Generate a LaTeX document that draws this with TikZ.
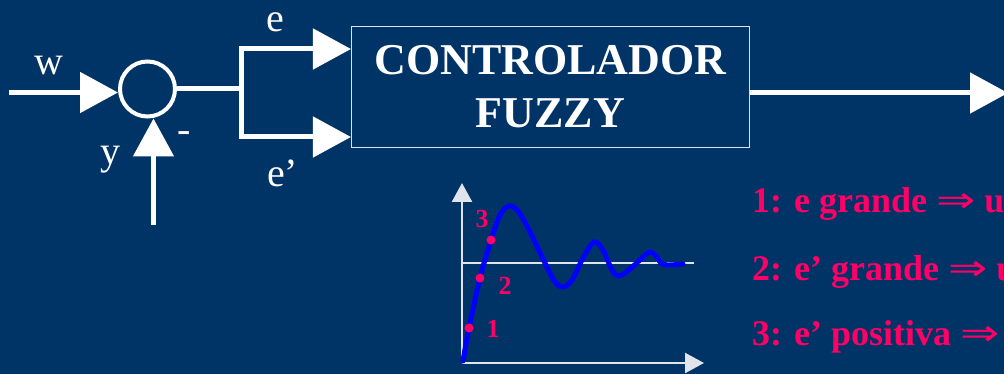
\documentclass[tikz,border=0pt]{standalone}
\usepackage{fontspec}
\setmainfont{Liberation Serif}
\newfontfamily\symfont{DejaVu Sans}
\usetikzlibrary{arrows.meta}
\definecolor{bg}{RGB}{0,51,102}
\definecolor{hot}{RGB}{255,0,102}
\definecolor{curveblue}{RGB}{0,0,255}
\definecolor{boxline}{RGB}{220,225,235}
\definecolor{axisgray}{RGB}{225,228,235}
\newcommand{\impl}{\scalebox{1.3}[1.0]{\symfont\mdseries ⇒}}
\begin{document}
\begin{tikzpicture}[x=1pt,y=-1pt,
  sig/.style={draw=white, line width=5pt, -{Triangle[length=38pt,width=40pt]}},
  plain/.style={draw=white, line width=5pt},
  axisline/.style={draw=axisgray, line width=2.5pt, -{Triangle[length=19pt,width=20pt]}},
  lbl/.style={text=white, font=\fontsize{40}{48}\selectfont, inner sep=0pt},
  numlbl/.style={text=hot, font=\fontsize{26}{30}\selectfont\bfseries, inner sep=0pt},
  rule/.style={text=hot, font=\fontsize{36}{40}\selectfont\bfseries, inner sep=0pt, anchor=base west},
  dot/.style={fill=hot}]
\clip (0,0) rectangle (1004,374);
\fill[bg] (0,0) rectangle (1004,374);
\useasboundingbox (0,0) rectangle (1004,374);

% summing junction
\node[draw=white, line width=4pt, circle, minimum size=55pt, inner sep=0pt] (sum) at (147.5,89) {};
\coordinate (win) at (9,92.5);
\coordinate (yin) at (153.5,225);
\coordinate (branch) at (241.5,89);
\draw[sig] (win) -- (win -| sum.west);
\draw[sig] (yin) -- (yin |- sum.south);
\draw[plain] (sum.east) -- (branch);

% controller
\node[draw=boxline, line width=1.5pt, minimum width=397.6pt, minimum height=120.6pt,
      inner sep=0pt, align=center, text=white,
      font=\fontsize{44}{53}\selectfont\bfseries] (ctrl) at (550.5,87) {CONTROLADOR\\FUZZY};
\path (ctrl.west) ++(0,-38) coordinate (inE);
\path (ctrl.west) ++(0,50) coordinate (inEd);
\draw[sig] (branch) |- (inE);
\draw[sig] (branch) |- (inEd);
\coordinate (yout) at (1008,93);
\draw[sig] (ctrl.east |- yout) -- (yout);

% labels
\node[lbl, anchor=base] (wl) at (49,75) {w};
\node[lbl, anchor=base] (yl) at (110,165) {y};
\node[lbl, anchor=base] (minus) at (184,143) {-};
\node[lbl, anchor=base] (el) at (275,32) {e};
\node[lbl, anchor=base west] (epl) at (267,187) {e’};

% response graph
\coordinate (O) at (462,363);
\coordinate (ytop) at (462,183);
\coordinate (xend) at (704,363);
\coordinate (r0) at (462,263);
\coordinate (r1) at (694,263);
\draw[axisline] (O) -- (ytop);
\draw[axisline] (O) -- (xend);
\draw[draw=axisgray, line width=1.5pt] (r0) -- (r1);
\draw[curveblue, line width=5pt, line cap=round] plot[smooth, tension=0.55] coordinates {
 (463,361) (469,328) (480,278) (491,240) (500,215) (509,206) (518,211) (530,232)
 (545,263) (555,282) (563,287) (572,280) (583,258) (594,242) (603,250) (612,270)
 (619,276) (630,269) (642,258) (650,252) (656,256) (661,263) (668,265) (683,264)};
\fill[dot] (469,328) circle (4.5pt);
\fill[dot] (480,278) circle (4.5pt);
\fill[dot] (491,240) circle (4.5pt);
\node[numlbl, anchor=base] (n3) at (482,228) {3};
\node[numlbl, anchor=base] (n2) at (505,294) {2};
\node[numlbl, anchor=base] (n1) at (493,337) {1};

% rules
\node[rule] (r1t) at (752,213) {1: e grande \impl\ u};
\node[rule] (r2t) at (752,280) {2: e’ grande \impl\ u};
\node[rule] (r3t) at (752,345.5) {3: e’ positiva \impl\ u};
\end{tikzpicture}
\end{document}
